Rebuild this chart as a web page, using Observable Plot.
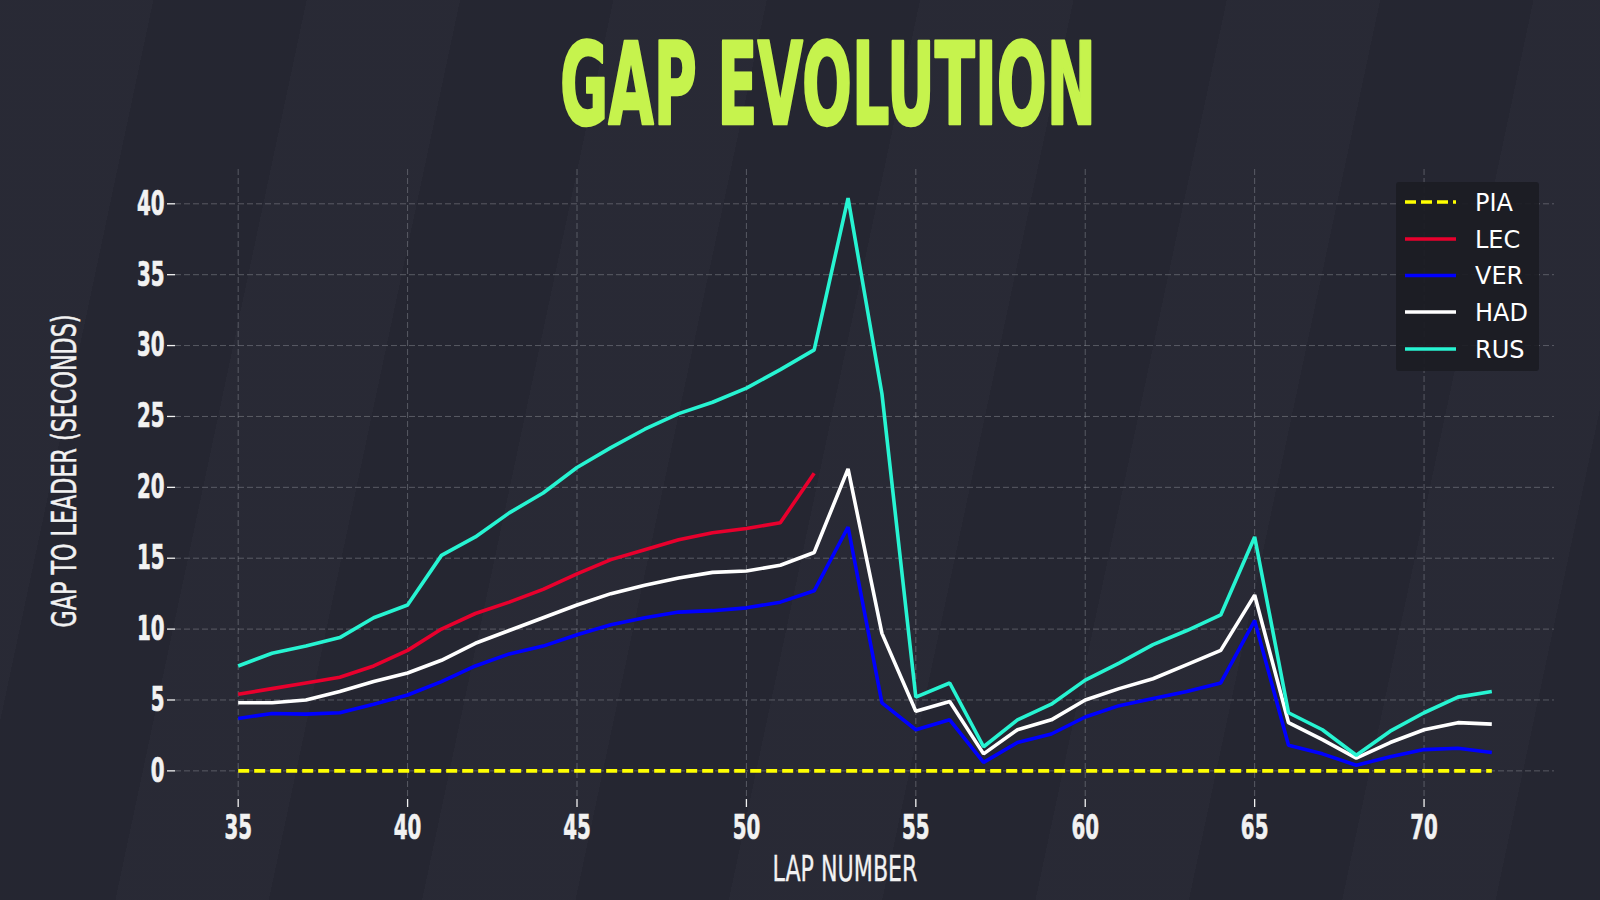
<!DOCTYPE html>
<html><head><meta charset="utf-8">
<script src="https://cdn.jsdelivr.net/npm/d3@7"></script>
<script src="https://cdn.jsdelivr.net/npm/@observablehq/plot@0.6"></script>
<style>
html,body{margin:0;padding:0;background:#262733;}
#wrap{position:relative;width:1600px;height:900px;overflow:hidden;background:#262733;}
#bg{position:absolute;left:0;top:0;width:1600px;height:900px;
 background:repeating-linear-gradient(102deg, rgba(255,255,255,0.012) 0px, rgba(255,255,255,0.012) 150px, rgba(0,0,0,0.035) 150px, rgba(0,0,0,0.035) 300px);}
#title{position:relative;display:block}
#chart{position:relative;height:750px}
#chart svg{display:block}
#overlay{position:absolute;left:0;top:0;pointer-events:none}
#legend{position:absolute;left:1396px;top:182px;width:143px;height:189px;background:rgba(27,28,35,0.92);border-radius:3px}
</style></head>
<body><div id="wrap"><div id="bg"></div>
<svg id="title" width="1600" height="150"></svg>
<div id="chart"></div>
<svg id="overlay" width="1600" height="900"></svg>
<div id="legend"></div>
</div>
<script>
const titleText = "GAP EVOLUTION";
const xLabel = "LAP NUMBER";
const yLabel = "GAP TO LEADER (SECONDS)";
const laps = [35,36,37,38,39,40,41,42,43,44,45,46,47,48,49,50,51,52,53,54,55,56,57,58,59,60,61,62,63,64,65,66,67,68,69,70,71,72];
const drivers = ["PIA","LEC","VER","HAD","RUS"];
const colors = ["#ffff00","#e8002d","#0000ff","#ffffff","#27f4d2"];
const PIA = [0,0,0,0,0,0,0,0,0,0,0,0,0,0,0,0,0,0,0,0,0,0,0,0,0,0,0,0,0,0,0,0,0,0,0,0,0,0];
const LEC = [5.4,5.8,6.2,6.6,7.4,8.5,10.0,11.1,11.9,12.8,13.9,14.9,15.6,16.3,16.8,17.1,17.5,21.0];
const VER = [3.7,4.05,4.0,4.1,4.7,5.35,6.3,7.4,8.25,8.8,9.6,10.3,10.8,11.2,11.3,11.5,11.9,12.7,17.2,4.8,2.9,3.6,0.6,2.0,2.6,3.8,4.6,5.1,5.6,6.2,10.6,1.8,1.2,0.4,1.0,1.5,1.6,1.3];
const HAD = [4.8,4.8,5.0,5.6,6.3,6.9,7.8,9.0,9.9,10.8,11.7,12.5,13.1,13.6,14.0,14.1,14.5,15.4,21.3,9.7,4.2,4.9,1.2,2.9,3.6,5.0,5.8,6.5,7.5,8.5,12.4,3.4,2.2,0.9,2.0,2.9,3.4,3.3];
const RUS = [7.4,8.3,8.8,9.4,10.8,11.7,15.2,16.5,18.2,19.6,21.4,22.8,24.1,25.2,26.0,27.0,28.3,29.7,40.4,26.6,5.2,6.2,1.7,3.6,4.7,6.4,7.6,8.9,9.9,11.0,16.5,4.1,2.9,1.1,2.8,4.1,5.2,5.6];
const xTicks = [35,40,45,50,55,60,65,70];
const yTicks = [0,5,10,15,20,25,30,35,40];

const series = [PIA, LEC, VER, HAD, RUS];
const condensed = "'Liberation Sans Narrow','DejaVu Sans Condensed','Arial Narrow',sans-serif";

const lineMarks = drivers.map((d, i) => {
  const rows = series[i].map((g, j) => ({lap: laps[j], gap: g}));
  return Plot.line(rows, {x: "lap", y: "gap", stroke: colors[i], strokeWidth: 3.6,
    strokeDasharray: d === "PIA" ? "11,5" : null, strokeLinejoin: "miter", strokeLinecap: "butt"});
});

const chart = Plot.plot({
  width: 1600, height: 750,
  marginLeft: 175, marginRight: 46, marginTop: 19, marginBottom: 101,
  x: {domain: [33.15, 73.85]},
  y: {domain: [-2.02, 42.42]},
  style: {background: "transparent", color: "#f2f2f2", fontFamily: condensed, fontSize: "33px"},
  marks: [
    Plot.gridX(xTicks, {stroke: "#a0a1aa", strokeOpacity: 0.42, strokeDasharray: "6,3", strokeWidth: 1}),
    Plot.gridY(yTicks, {stroke: "#a0a1aa", strokeOpacity: 0.42, strokeDasharray: "6,3", strokeWidth: 1}),
    Plot.axisX(xTicks, {tickSize: 8, tickPadding: 7, label: null, fontWeight: "bold", fontSize: 34, fontFamily: condensed, strokeWidth: 1.3}),
    Plot.axisY(yTicks, {tickSize: 8, tickPadding: 3, label: null, fontWeight: "bold", fontSize: 34, fontFamily: condensed, strokeWidth: 1.3}),
    ...lineMarks
  ]
});
document.getElementById("chart").appendChild(chart);

// Condense tick labels horizontally (about 14px per digit, as in the reference)
d3.select(chart).selectAll('g[aria-label="x-axis tick label"] text, g[aria-label="y-axis tick label"] text').each(function() {
  const n = this.textContent.length;
  const w = this.getComputedTextLength();
  const sx = (13.8 * n) / w;
  const tr = this.getAttribute("transform") || "";
  this.setAttribute("transform", tr + ` scale(${sx},1)`);
  this.setAttribute("stroke", "#f2f2f2");
  this.setAttribute("stroke-width", 0.6);
});

// helper: horizontally fit text to a target width via transform
function fitText(sel, cx, cy, target, rotate) {
  const node = sel.node();
  const w = node.getComputedTextLength();
  const sx = target / w;
  sel.attr("transform", `translate(${cx},${cy})${rotate ? " rotate(-90)" : ""} scale(${sx},1)`);
}

// Title
const t = d3.select("#title").append("text")
  .attr("text-anchor", "middle")
  .attr("fill", "#c6f34d").attr("stroke", "#c6f34d").attr("stroke-width", 2.5)
  .attr("stroke-linejoin", "round")
  .attr("font-family", condensed).attr("font-weight", "bold")
  .attr("font-size", 114).text(titleText);
fitText(t, 828, 124, 536, false);

// Axis labels
const ov = d3.select("#overlay");
const yl = ov.append("text").attr("text-anchor", "middle")
  .attr("fill", "#f2f2f2").attr("stroke", "#f2f2f2").attr("stroke-width", 0.5)
  .attr("font-family", condensed).attr("font-size", 33)
  .text(yLabel);
fitText(yl, 76, 471, 313, true);
const xl = ov.append("text").attr("text-anchor", "middle")
  .attr("fill", "#f2f2f2").attr("stroke", "#f2f2f2").attr("stroke-width", 0.3)
  .attr("font-family", condensed).attr("font-size", 35)
  .text(xLabel);
fitText(xl, 845, 881, 145, false);

// Legend
const lg = d3.select("#legend").append("svg").attr("width", 143).attr("height", 189);
const rowY = [20, 57, 93.5, 130, 167];
drivers.forEach((d, i) => {
  lg.append("line").attr("x1", 9).attr("x2", 60).attr("y1", rowY[i]).attr("y2", rowY[i])
    .attr("stroke", colors[i]).attr("stroke-width", 3.6)
    .attr("stroke-dasharray", d === "PIA" ? "11,5" : null);
  lg.append("text").attr("x", 79).attr("y", rowY[i]).attr("dy", "0.36em")
    .attr("fill", "#ffffff").attr("font-family", "'DejaVu Sans',sans-serif").attr("font-size", 24)
    .text(d);
});
</script>
</body></html>
